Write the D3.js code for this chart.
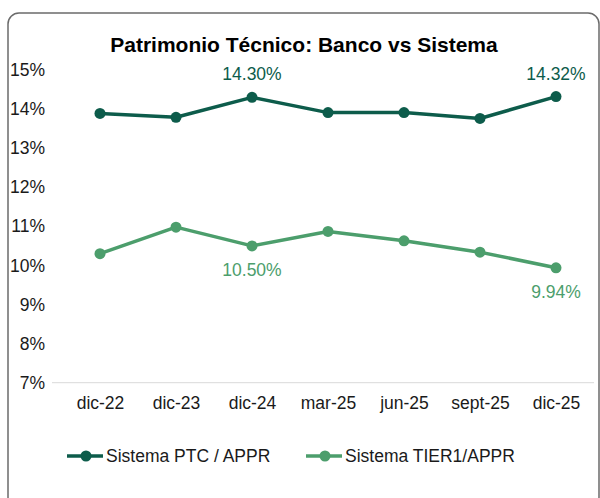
<!DOCTYPE html>
<html>
<head>
<meta charset="utf-8">
<script src="https://cdn.jsdelivr.net/npm/d3@7"></script>
<style>
  body { margin: 0; background: #fff; }
  svg text { font-family: "Liberation Sans", Arial, sans-serif; }
</style>
</head>
<body>
<svg id="chart" width="600" height="498"></svg>
<script>
// data
let categories = ["dic-22", "dic-23", "dic-24", "mar-25", "jun-25", "sept-25", "dic-25"];
let ptcValues = [13.89, 13.79, 14.30, 13.91, 13.91, 13.76, 14.32];
let tier1Values = [10.30, 10.98, 10.50, 10.87, 10.63, 10.34, 9.94];
let yTicks = [7, 8, 9, 10, 11, 12, 13, 14, 15];
let seriesNames = ["Sistema PTC / APPR", "Sistema TIER1/APPR"];
// which points carry a value label, and where (above / below)
let ptcLabels = [{ i: 2, pos: "above" }, { i: 6, pos: "above" }];
let tier1Labels = [{ i: 2, pos: "below" }, { i: 6, pos: "below" }];

let darkGreen = "#0d5c4b";
let lightGreen = "#4c9e6c";
let fontSize = 17.5;

let svg = d3.select("#chart");

// outer frame
svg.append("rect")
  .attr("x", 8).attr("y", 13)
  .attr("width", 591).attr("height", 495)
  .attr("rx", 11).attr("ry", 11)
  .attr("fill", "#fff")
  .attr("stroke", "#6b6b6b")
  .attr("stroke-width", 1.5);

svg.append("text")
  .attr("x", 304).attr("y", 52)
  .attr("text-anchor", "middle")
  .attr("font-size", 21)
  .attr("font-weight", "bold")
  .attr("fill", "#000")
  .text("Patrimonio Técnico: Banco vs Sistema");

let x = d3.scalePoint()
  .domain(categories)
  .range([100, 556]);

let y = d3.scaleLinear()
  .domain([7, 15])
  .range([382.7, 70]);

// y axis labels, no lines
let yAxis = svg.append("g")
  .attr("transform", "translate(45,0)")
  .call(d3.axisLeft(y).tickValues(yTicks).tickSize(0).tickPadding(0).tickFormat(d => d + "%"));
yAxis.select(".domain").remove();
yAxis.selectAll("text").attr("font-size", fontSize).attr("fill", "#1a1a1a")
  .attr("font-family", "Liberation Sans, Arial, sans-serif");

// baseline
svg.append("line")
  .attr("x1", 52).attr("x2", 594)
  .attr("y1", y(7)).attr("y2", y(7))
  .attr("stroke", "#d9d9d9")
  .attr("stroke-width", 1);

// x axis labels
let xAxis = svg.append("g")
  .attr("transform", "translate(0," + y(7) + ")")
  .call(d3.axisBottom(x).tickSize(0).tickPadding(14));
xAxis.select(".domain").remove();
xAxis.selectAll("text").attr("font-size", fontSize).attr("fill", "#1a1a1a")
  .attr("font-family", "Liberation Sans, Arial, sans-serif");

function drawSeries(values, colour, labels) {
  let line = d3.line()
    .x((d, i) => x(categories[i]))
    .y(d => y(d));

  svg.append("path")
    .datum(values)
    .attr("d", line)
    .attr("fill", "none")
    .attr("stroke", colour)
    .attr("stroke-width", 3.5)
    .attr("stroke-linejoin", "round");

  svg.append("g")
    .selectAll("circle")
    .data(values)
    .join("circle")
    .attr("cx", (d, i) => x(categories[i]))
    .attr("cy", d => y(d))
    .attr("r", 5.5)
    .attr("fill", colour);

  svg.append("g")
    .selectAll("text")
    .data(labels)
    .join("text")
    .attr("x", d => x(categories[d.i]))
    .attr("y", d => d.pos === "above" ? y(values[d.i]) - 17 : y(values[d.i]) + 30)
    .attr("text-anchor", "middle")
    .attr("font-size", fontSize)
    .attr("fill", colour)
    .text(d => values[d.i].toFixed(2) + "%");
}

drawSeries(ptcValues, darkGreen, ptcLabels);
drawSeries(tier1Values, lightGreen, tier1Labels);

// legend
let legend = svg.append("g").attr("transform", "translate(0,456)");
let legendItems = [
  { name: seriesNames[0], colour: darkGreen, x0: 67 },
  { name: seriesNames[1], colour: lightGreen, x0: 306 }
];
legendItems.forEach(function (item) {
  legend.append("line")
    .attr("x1", item.x0).attr("x2", item.x0 + 36)
    .attr("y1", 0).attr("y2", 0)
    .attr("stroke", item.colour)
    .attr("stroke-width", 3.5);
  legend.append("circle")
    .attr("cx", item.x0 + 19).attr("cy", 0)
    .attr("r", 5.5)
    .attr("fill", item.colour);
  legend.append("text")
    .attr("x", item.x0 + 39).attr("y", 6)
    .attr("font-size", fontSize)
    .attr("fill", "#1a1a1a")
    .text(item.name);
});
</script>
</body>
</html>
